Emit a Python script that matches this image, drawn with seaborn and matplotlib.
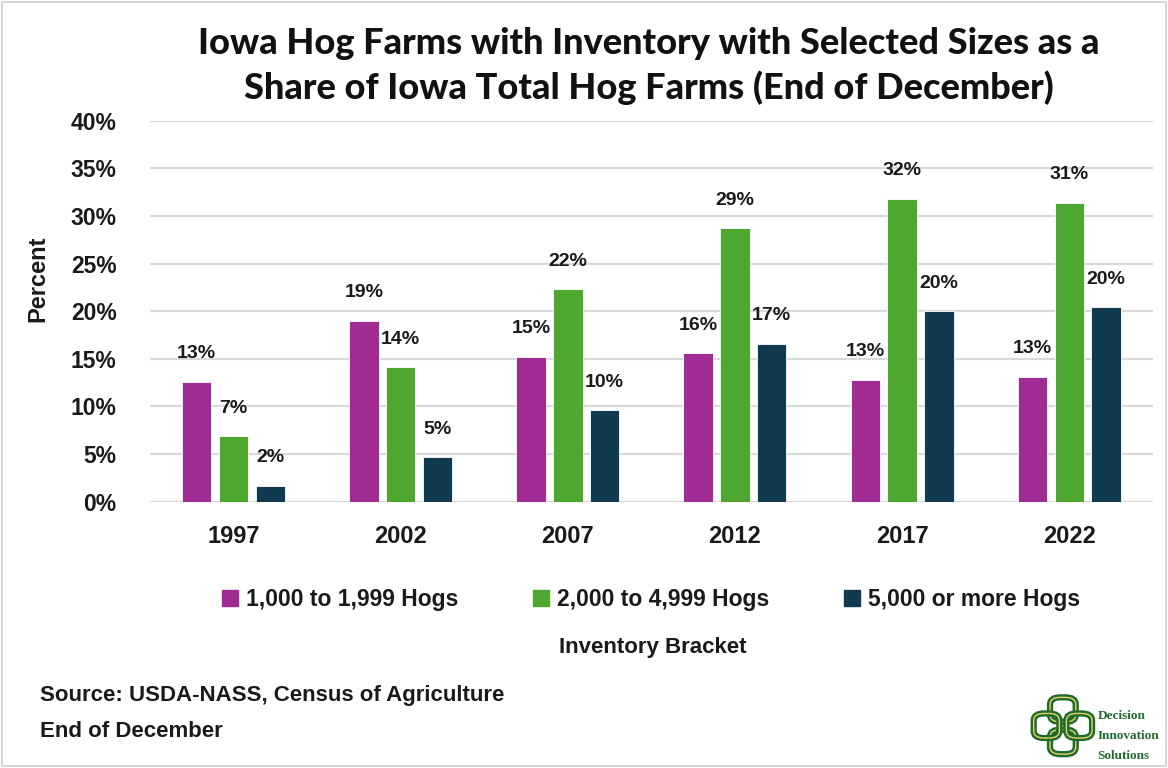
import matplotlib
matplotlib.use("Agg")
import matplotlib.pyplot as plt
from matplotlib.lines import Line2D
from matplotlib.patches import Rectangle, FancyBboxPatch
from matplotlib.ticker import PercentFormatter, MultipleLocator
import seaborn as sns
import pandas as pd

# Census years and hog-farm size brackets
years = ["1997", "2002", "2007", "2012", "2017", "2022"]
brackets = ["1,000 to 1,999 Hogs", "2,000 to 4,999 Hogs", "5,000 or more Hogs"]

# Share of Iowa total hog farms (percent)
share_1000_1999 = [12.6, 19.0, 15.2, 15.6, 12.8, 13.1]
share_2000_4999 = [6.9, 14.1, 22.3, 28.7, 31.8, 31.4]
share_5000_plus = [1.7, 4.7, 9.6, 16.6, 20.0, 20.4]

colors = ["#A02B93", "#4EA72E", "#0F3A50"]

df = pd.DataFrame({
    "Year": years * 3,
    "Bracket": [brackets[0]] * 6 + [brackets[1]] * 6 + [brackets[2]] * 6,
    "Share": share_1000_1999 + share_2000_4999 + share_5000_plus,
})

sns.set_theme(style="white")
plt.rcParams["font.family"] = ["Liberation Sans", "DejaVu Sans"]

fig = plt.figure(figsize=(11.68, 7.68), dpi=100)
ax = fig.add_axes([0.1284, 0.3467, 0.8586, 0.4963])

sns.barplot(data=df, x="Year", y="Share", hue="Bracket", order=years,
            hue_order=brackets, palette=colors, width=0.66, gap=0.2,
            legend=False, ax=ax, saturation=1, edgecolor="white", linewidth=0.6)

for container in ax.containers:
    ax.bar_label(container, labels=[f"{v:.0f}%" for v in container.datavalues],
                 padding=14, fontsize=14, fontweight="bold", color="#1a1a1a")

ax.set_ylim(0, 40)
ax.set_xlim(-0.5, 5.5)
ax.yaxis.set_major_locator(MultipleLocator(5))
ax.yaxis.set_major_formatter(PercentFormatter(decimals=0))
ax.grid(axis="y", color="#d9d9d9", linewidth=1.6)
ax.set_axisbelow(True)
for s in ax.spines.values():
    s.set_visible(False)
ax.tick_params(axis="y", length=0, labelsize=16.5, colors="#1a1a1a", pad=24)
ax.tick_params(axis="x", length=0, labelsize=17, colors="#1a1a1a", pad=17)
for lbl in ax.get_xticklabels() + ax.get_yticklabels():
    lbl.set_fontweight("bold")
ax.set_xlabel("")
ax.set_ylabel("Percent", fontsize=17, fontweight="bold", color="#1a1a1a")
ax.yaxis.set_label_coords(-0.1, 0.585)

title_lines = ["Iowa Hog Farms with Inventory with Selected Sizes as a",
               "Share of Iowa Total Hog Farms (End of December)"]
for i, line in enumerate(title_lines):
    fig.text(0.5555, 0.944 - i * 0.058, line, ha="center", va="center",
             fontsize=26, fontweight="black", color="#111111",
             family=["Lato", "DejaVu Sans"])

handles = [Line2D([0], [0], marker="s", linestyle="none", markersize=11,
                  markerfacecolor=c, markeredgecolor=c) for c in colors]
fig.legend(handles, brackets, loc="center", bbox_to_anchor=(0.557, 0.219),
           ncol=3, frameon=False, prop={"size": 16.5, "weight": "bold"},
           handletextpad=0.3, columnspacing=3.2, handlelength=0.8,
           labelcolor="#1a1a1a")

fig.text(0.559, 0.157, "Inventory Bracket", ha="center", va="center",
         fontsize=16, fontweight="bold", color="#1a1a1a")

fig.text(0.034, 0.094, "Source: USDA-NASS, Census of Agriculture", ha="left",
         va="center", fontsize=16, fontweight="bold", color="#1a1a1a")
fig.text(0.034, 0.048, "End of December", ha="left", va="center",
         fontsize=16, fontweight="bold", color="#1a1a1a")

# Organisation mark in the lower right corner
green = "#1E6B2E"
gold = "#E8D36A"
for (cx, cy) in [(0.910, 0.076), (0.910, 0.034), (0.896, 0.055), (0.924, 0.055)]:
    for ec, lw in [(green, 4.5), (gold, 1.0)]:
        fig.patches.append(FancyBboxPatch((cx - 0.009, cy - 0.014), 0.018, 0.028,
                                          boxstyle="round,pad=0.002,rounding_size=0.009",
                                          transform=fig.transFigure, facecolor="none",
                                          edgecolor=ec, linewidth=lw))
for i, word in enumerate(["Decision", "Innovation", "Solutions"]):
    fig.text(0.9395, 0.068 - i * 0.026, word, ha="left", va="center", fontsize=9.5,
             fontweight="bold", color=green, family=["Liberation Serif", "DejaVu Serif"])

# Chart border
fig.patches.append(Rectangle((0.002, 0.002), 0.996, 0.996, transform=fig.transFigure,
                             facecolor="none", edgecolor="#d0d0d0", linewidth=1.2))

fig.savefig("out.png", dpi=100)
